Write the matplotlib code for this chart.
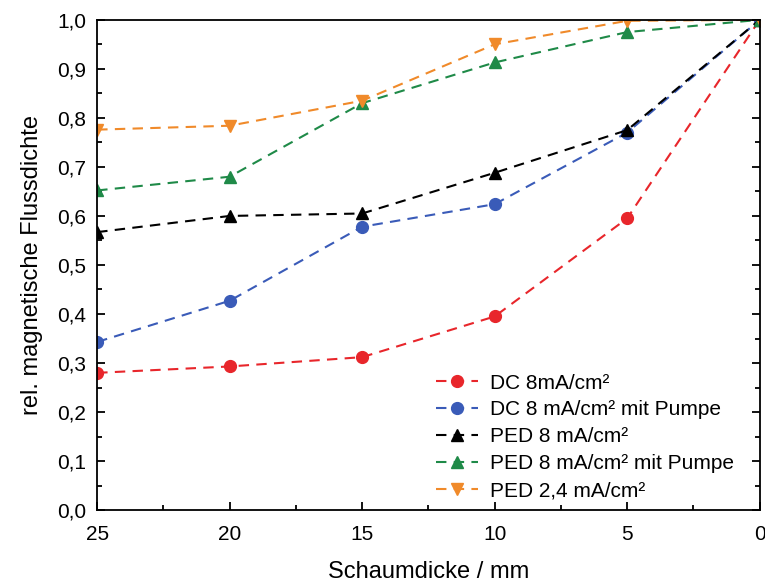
import matplotlib
matplotlib.use("Agg")
import matplotlib.pyplot as plt
from matplotlib.ticker import MultipleLocator, FuncFormatter

plt.rcParams['font.family'] = ['Liberation Sans', 'DejaVu Sans']

# Schaumdicke in mm
dicke = [25, 20, 15, 10, 5, 0]

dc_8 = [0.280, 0.293, 0.312, 0.395, 0.595, 1.0]
dc_8_pumpe = [0.343, 0.427, 0.578, 0.624, 0.770, 1.0]
ped_8 = [0.567, 0.600, 0.605, 0.688, 0.775, 1.0]
ped_8_pumpe = [0.652, 0.680, 0.830, 0.913, 0.975, 1.0]
ped_24 = [0.776, 0.784, 0.835, 0.950, 0.998, 1.0]

labels = ["DC 8mA/cm²", "DC 8 mA/cm² mit Pumpe", "PED 8 mA/cm²",
          "PED 8 mA/cm² mit Pumpe", "PED 2,4 mA/cm²"]
colors = ["#e8262b", "#3a5bb8", "#000000", "#1f8a48", "#f08a2a"]
markers = ["o", "o", "^", "^", "v"]

fig = plt.figure(figsize=(7.65, 5.83), dpi=100)
ax = fig.add_axes([0.127, 0.125, 0.866, 0.841])

for y, lab, c, m in zip([dc_8, dc_8_pumpe, ped_8, ped_8_pumpe, ped_24], labels, colors, markers):
    ax.plot(dicke, y, linestyle=(0, (5, 3.5)), color=c, marker=m, markersize=8.5,
            linewidth=1.5, label=lab)

ax.set_xlim(25, 0)
ax.set_ylim(0, 1.0)
ax.xaxis.set_major_locator(MultipleLocator(5))
ax.xaxis.set_minor_locator(MultipleLocator(2.5))
ax.yaxis.set_major_locator(MultipleLocator(0.1))
ax.yaxis.set_minor_locator(MultipleLocator(0.05))
ax.yaxis.set_major_formatter(FuncFormatter(lambda v, p: f"{v:.1f}".replace(".", ",")))
ax.tick_params(which="both", direction="in", right=True, top=False, labelsize=15, width=1.3)
ax.tick_params(which="major", length=6)
ax.tick_params(which="minor", length=3.5)
ax.tick_params(axis="x", which="major", pad=11)
ax.tick_params(axis="y", which="major", pad=8)
for s in ax.spines.values():
    s.set_linewidth(1.3)

ax.set_xlabel("Schaumdicke / mm", fontsize=17, labelpad=12)
ax.set_ylabel("rel. magnetische Flussdichte", fontsize=17, labelpad=10)

ax.legend(loc="lower right", bbox_to_anchor=(0.99, -0.018), frameon=False, fontsize=15,
          handlelength=2.0, labelspacing=0.38, handletextpad=0.6)

fig.savefig("out.png")
